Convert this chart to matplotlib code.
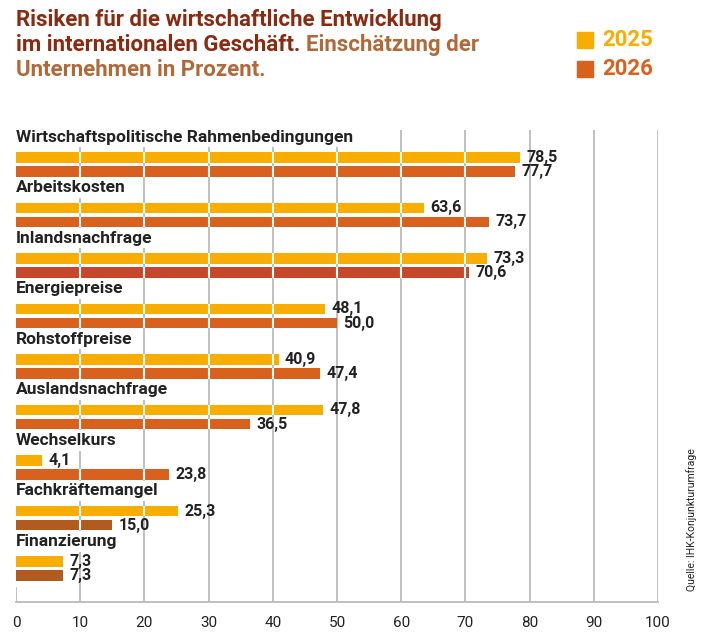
import matplotlib
matplotlib.use("Agg")
import matplotlib.pyplot as plt
from matplotlib.patches import Rectangle

categories = ["Wirtschaftspolitische Rahmenbedingungen", "Arbeitskosten", "Inlandsnachfrage",
              "Energiepreise", "Rohstoffpreise", "Auslandsnachfrage", "Wechselkurs",
              "Fachkräftemangel", "Finanzierung"]
v2025 = [78.5, 63.6, 73.3, 48.1, 40.9, 47.8, 4.1, 25.3, 7.3]
v2026 = [77.7, 73.7, 70.6, 50.0, 47.4, 36.5, 23.8, 15.0, 7.3]
c2025 = "#F7AE00"
c2026 = ["#D9611E", "#D9611E", "#C7472A", "#D9611E", "#D9611E", "#D9611E", "#D9611E", "#B25B1E", "#B25B1E"]
ticks = list(range(0, 101, 10))

plt.rcParams['font.family'] = ['Roboto', 'DejaVu Sans']
fig = plt.figure(figsize=(7.09, 6.36), dpi=100)
ax = fig.add_axes([16/709, 1-602/636, (658-16)/709, (602-130)/636])
ax.set_xlim(0, 100)
ax.set_ylim(9.2, -0.14)
for t in ticks[1:]:
    ax.axvline(t, color="#B5B5B5", lw=1.2, zorder=0)
h = 0.21
for i, cat in enumerate(categories):
    ax.text(0, i, cat, fontsize=12.5, fontweight="bold", color="#222222", va="center", ha="left",
            bbox=dict(facecolor="white", edgecolor="none", pad=2), zorder=3)
    for off, val, col in [(0.4, v2025[i], c2025), (0.68, v2026[i], c2026[i])]:
        ax.barh(i + off, val, height=h, color=col, zorder=2)
        ax.vlines([t for t in ticks[1:] if t < val], i + off - h/2, i + off + h/2, color="white", lw=1.5, zorder=2.5)
        ax.text(val + 1.0, i + off, f"{val:.1f}".replace(".", ","), fontsize=11.5, fontweight="bold",
                color="#222222", va="center", ha="left", zorder=3)
for s in ["top", "right", "left"]:
    ax.spines[s].set_visible(False)
ax.spines["bottom"].set_color("#B5B5B5")
ax.spines["bottom"].set_linewidth(1.2)
ax.set_yticks([])
ax.set_xticks(ticks)
ax.tick_params(axis="x", length=0, pad=10, labelsize=11, labelcolor="#222222")
ax.axvline(0, color="#B5B5B5", lw=1.2, ymax=(602-588)/472, zorder=0)

tfs = 16
fig.text(16/709, 1-20/636, "Risiken für die wirtschaftliche Entwicklung",
         fontsize=tfs, fontweight="bold", color="#8A2A10", va="center")
t2 = fig.text(16/709, 1-45/636, "im internationalen Geschäft.",
              fontsize=tfs, fontweight="bold", color="#8A2A10", va="center")
fig.canvas.draw()
bb = t2.get_window_extent()
fig.text((bb.x1 + 6) / fig.bbox.width, 1-45/636, "Einschätzung der", fontsize=tfs, fontweight="bold",
         color="#B06A3A", va="center")
fig.text(16/709, 1-70/636, "Unternehmen in Prozent.", fontsize=tfs, fontweight="bold", color="#B06A3A", va="center")
fig.patches.append(Rectangle((577/709, 1-48/636), 16/709, 16/636, transform=fig.transFigure, color=c2025))
fig.patches.append(Rectangle((577/709, 1-77/636), 16/709, 16/636, transform=fig.transFigure, color="#D9611E"))
fig.text(602/709, 1-40/636, "2025", fontsize=16, fontweight="bold", color=c2025, va="center")
fig.text(602/709, 1-69/636, "2026", fontsize=16, fontweight="bold", color="#D9611E", va="center")
fig.text(692/709, 1-520/636, "Quelle: IHK-Konjunkturumfrage", fontsize=7.5, rotation=90, color="#222222",
         va="center", ha="center")
fig.savefig("out.png", dpi=100)
